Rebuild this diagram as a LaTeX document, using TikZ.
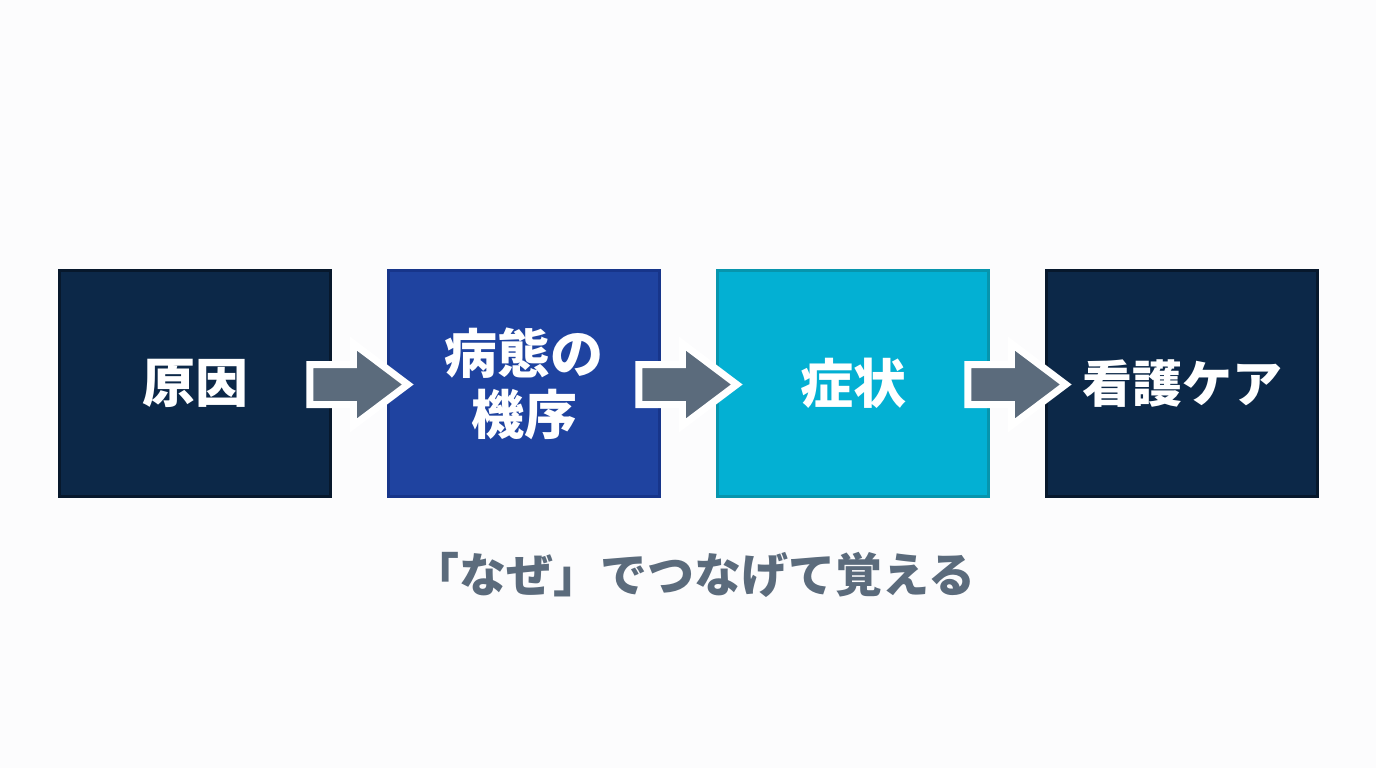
\documentclass[tikz,border=0pt]{standalone}
\usepackage{fontspec}
\setmainfont{Noto Sans CJK JP}
\usepackage{xcolor}
\usepackage{tikz}
\usetikzlibrary{arrows.meta,positioning,shapes.arrows,calc}

\definecolor{navy}{HTML}{0C2848}
\definecolor{navyline}{HTML}{07182C}
\definecolor{royal}{HTML}{1F43A0}
\definecolor{royalline}{HTML}{17358A}
\definecolor{cyan}{HTML}{03B0D3}
\definecolor{cyanline}{HTML}{0795AD}
\definecolor{slate}{HTML}{5B6B7C}
\definecolor{paper}{HTML}{FCFCFD}

\begin{document}
\begin{tikzpicture}[
  x=1pt,y=1pt,
  node distance=55pt and 55pt,
  box/.style={rectangle,line width=3pt,minimum width=271pt,minimum height=226pt,
              inner sep=0pt,align=center,text=white,
              font=\fontsize{53}{61}\selectfont\bfseries},
  cause/.style={box,fill=navy,draw=navyline},
  mech/.style={box,fill=royal,draw=royalline},
  sympt/.style={box,fill=cyan,draw=cyanline},
  flow/.style={single arrow,draw=white,line width=7pt,fill=slate,
               minimum height=98pt,inner xsep=0pt,inner ysep=16.5pt,
               single arrow head extend=21pt,single arrow tip angle=74},
  caption/.style={text=slate,font=\fontsize{47}{55}\selectfont\bfseries}
]
  \fill[paper] (0,0) rectangle (1376,-768);
  \useasboundingbox (0,0) rectangle (1376,-768);

  \node[cause] (origin) at (195,-383.5) {原因};
  \node[mech,right=of origin] (patho) {病態の\\機序};
  \node[sympt,right=of patho] (symptom) {症状};
  \node[cause,right=of symptom,font=\fontsize{50}{58}\selectfont\bfseries] (care) {看護ケア};

  % block arrows between the boxes
  \node[flow] (a1) at ($(origin.east)!0.5!(patho.west)+(-14pt,-1pt)$) {};
  \node[flow] (a2) at ($(patho.east)!0.5!(symptom.west)+(-14pt,-1pt)$) {};
  \node[flow] (a3) at ($(symptom.east)!0.5!(care.west)+(-14pt,-1pt)$) {};

  \node[caption] (note) at (694,-575) {「なぜ」でつなげて覚える};
\end{tikzpicture}
\end{document}
